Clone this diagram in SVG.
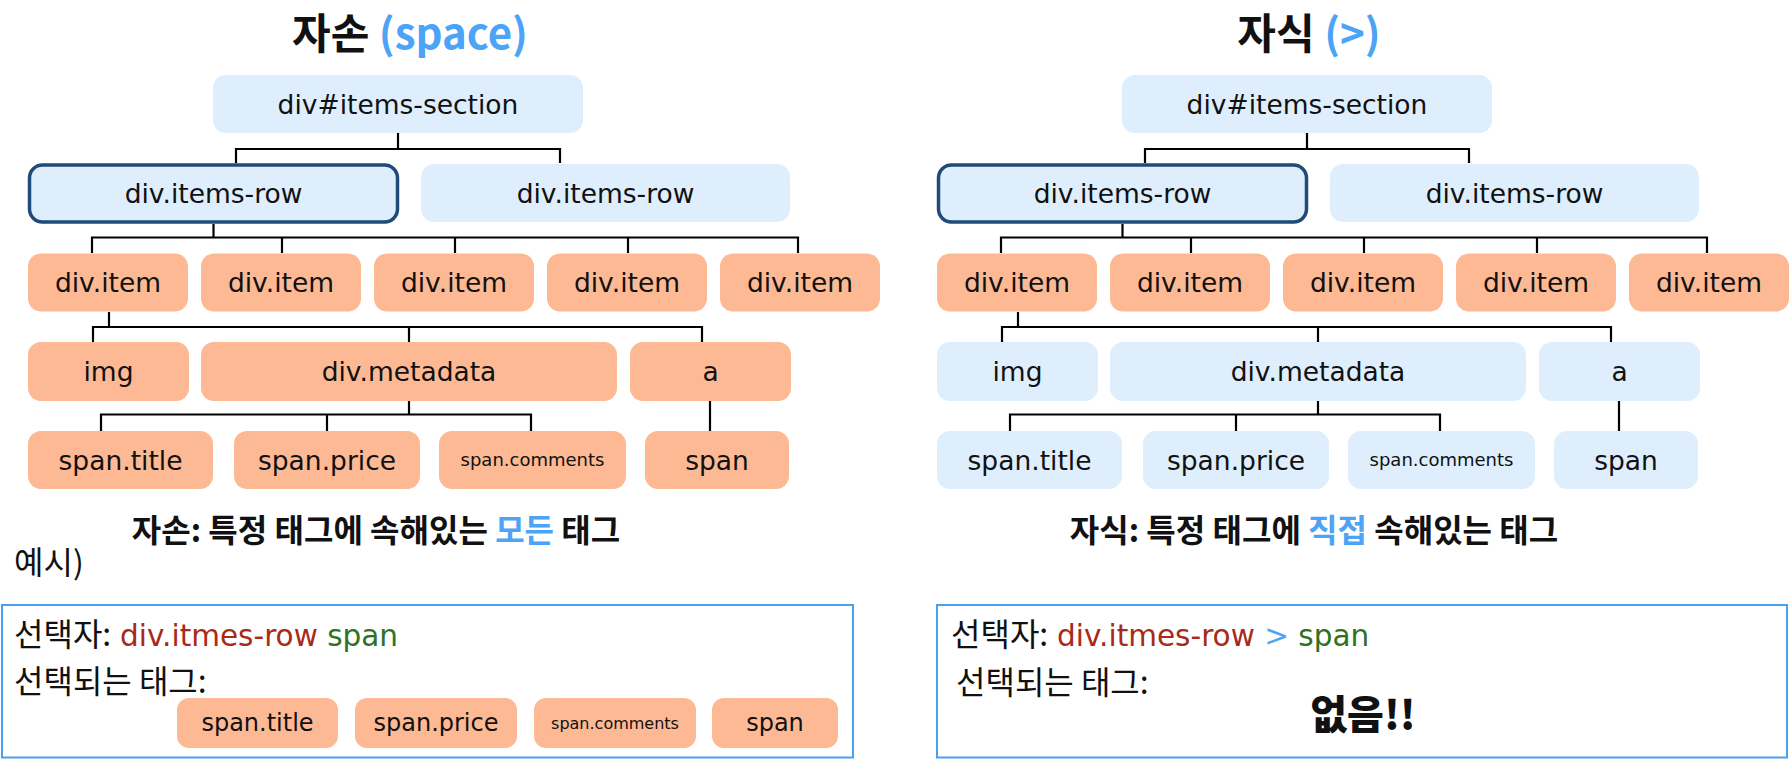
<svg xmlns="http://www.w3.org/2000/svg" width="1790" height="760" viewBox="0 0 1790 760">
<defs>
<style>
.bg{fill:#ffffff}
.lb{fill:#dfeefc}
.or{fill:#fcb994}
.hl{fill:#dfeefc;stroke:#1f4b78;stroke-width:3.5}
.lbl{font-family:"DejaVu Sans",sans-serif;font-size:26.5px;fill:#111;text-anchor:middle}
.sm{font-size:18px}
.res{font-size:24px}
.res-sm{font-size:16px}
.kr{font-family:"Noto Sans CJK KR",sans-serif;fill:#111}
.title{font-size:42px;font-weight:700;text-anchor:middle}
.cap{font-size:32px;font-weight:700;text-anchor:middle}
.txt{font-size:32px}
.lat{font-family:"DejaVu Sans",sans-serif;font-size:29.5px}
.blue{fill:#4da3f5}
.red{fill:#a82a18}
.green{fill:#2f711f}
.conn{fill:none;stroke:#000;stroke-width:2.2}
.frame{fill:none;stroke:#4a9ff0;stroke-width:2}
</style>
</defs>
<rect class="bg" x="0" y="0" width="1790" height="760"/>

<!-- ===== LEFT: descendant ===== -->
<g id="title-left"><text class="kr title" x="410" y="49">자손 <tspan class="blue">(space)</tspan></text></g>

<g id="connectors-left" class="conn">
<path d="M398,133 V149 M236,163 V149 H560 V163"/>
<path d="M213.5,224 V237.5 M92,253 V237.5 H798 V253 M282,237.5 V253 M455,237.5 V253 M628,237.5 V253"/>
<path d="M109,312 V327 M93,342 V327 H702 V342 M409,327 V342"/>
<path d="M409,401 V414.5 M101,431 V414.5 H531 V431 M327,414.5 V431"/>
<path d="M710,401 V431"/>
</g>

<g id="L-root"><rect class="lb" x="213" y="75" width="370" height="58" rx="13"/><text class="lbl" x="398" y="114">div#items-section</text></g>
<g id="L-row1"><rect class="hl" x="29.5" y="165" width="368" height="57" rx="13"/><text class="lbl" x="213.5" y="203">div.items-row</text></g>
<g id="L-row2"><rect class="lb" x="421" y="164" width="369" height="58" rx="13"/><text class="lbl" x="605.5" y="203">div.items-row</text></g>

<g id="L-item1"><rect class="or" x="28" y="253.5" width="160" height="58" rx="13"/><text class="lbl" x="108" y="292">div.item</text></g>
<g id="L-item2"><rect class="or" x="201" y="253.5" width="160" height="58" rx="13"/><text class="lbl" x="281" y="292">div.item</text></g>
<g id="L-item3"><rect class="or" x="374" y="253.5" width="160" height="58" rx="13"/><text class="lbl" x="454" y="292">div.item</text></g>
<g id="L-item4"><rect class="or" x="547" y="253.5" width="160" height="58" rx="13"/><text class="lbl" x="627" y="292">div.item</text></g>
<g id="L-item5"><rect class="or" x="720" y="253.5" width="160" height="58" rx="13"/><text class="lbl" x="800" y="292">div.item</text></g>

<g id="L-img"><rect class="or" x="28" y="342" width="161" height="59" rx="13"/><text class="lbl" x="108.5" y="381">img</text></g>
<g id="L-meta"><rect class="or" x="201" y="342" width="416" height="59" rx="13"/><text class="lbl" x="409" y="381">div.metadata</text></g>
<g id="L-a"><rect class="or" x="630" y="342" width="161" height="59" rx="13"/><text class="lbl" x="710.5" y="381">a</text></g>

<g id="L-title"><rect class="or" x="28" y="431" width="185" height="58" rx="13"/><text class="lbl" x="120.5" y="470">span.title</text></g>
<g id="L-price"><rect class="or" x="234" y="431" width="186" height="58" rx="13"/><text class="lbl" x="327" y="470">span.price</text></g>
<g id="L-comments"><rect class="or" x="439" y="431" width="187" height="58" rx="13"/><text class="lbl sm" x="532.5" y="466">span.comments</text></g>
<g id="L-span"><rect class="or" x="645" y="431" width="144" height="58" rx="13"/><text class="lbl" x="717" y="470">span</text></g>

<g id="caption-left"><text class="kr cap" x="376" y="542">자손: 특정 태그에 속해있는 <tspan class="blue">모든</tspan> 태그</text></g>
<g id="example"><text class="kr txt" x="14" y="574">예시)</text></g>

<g id="box-left">
<rect class="frame" x="2" y="605" width="851" height="152.5"/>
<text class="kr txt" x="14" y="646">선택자: <tspan class="lat red" x="120">div.itmes-row</tspan><tspan class="lat green"> span</tspan></text>
<text class="kr txt" x="14" y="693">선택되는 태그:</text>
<g id="R1-title"><rect class="or" x="177" y="698" width="161" height="50" rx="12"/><text class="lbl res" x="257.5" y="731">span.title</text></g>
<g id="R1-price"><rect class="or" x="355" y="698" width="162" height="50" rx="12"/><text class="lbl res" x="436" y="731">span.price</text></g>
<g id="R1-comments"><rect class="or" x="534" y="698" width="162" height="50" rx="12"/><text class="lbl res-sm" x="615" y="729">span.comments</text></g>
<g id="R1-span"><rect class="or" x="712" y="698" width="126" height="50" rx="12"/><text class="lbl res" x="775" y="731">span</text></g>
</g>

<!-- ===== RIGHT: child ===== -->
<g id="title-right"><text class="kr title" x="1309" y="49">자식 <tspan class="blue">(&gt;)</tspan></text></g>

<g id="connectors-right" class="conn" transform="translate(909,0)">
<path d="M398,133 V149 M236,163 V149 H560 V163"/>
<path d="M213.5,224 V237.5 M92,253 V237.5 H798 V253 M282,237.5 V253 M455,237.5 V253 M628,237.5 V253"/>
<path d="M109,312 V327 M93,342 V327 H702 V342 M409,327 V342"/>
<path d="M409,401 V414.5 M101,431 V414.5 H531 V431 M327,414.5 V431"/>
<path d="M710,401 V431"/>
</g>

<g transform="translate(909,0)">
<g id="R-root"><rect class="lb" x="213" y="75" width="370" height="58" rx="13"/><text class="lbl" x="398" y="114">div#items-section</text></g>
<g id="R-row1"><rect class="hl" x="29.5" y="165" width="368" height="57" rx="13"/><text class="lbl" x="213.5" y="203">div.items-row</text></g>
<g id="R-row2"><rect class="lb" x="421" y="164" width="369" height="58" rx="13"/><text class="lbl" x="605.5" y="203">div.items-row</text></g>

<g id="R-item1"><rect class="or" x="28" y="253.5" width="160" height="58" rx="13"/><text class="lbl" x="108" y="292">div.item</text></g>
<g id="R-item2"><rect class="or" x="201" y="253.5" width="160" height="58" rx="13"/><text class="lbl" x="281" y="292">div.item</text></g>
<g id="R-item3"><rect class="or" x="374" y="253.5" width="160" height="58" rx="13"/><text class="lbl" x="454" y="292">div.item</text></g>
<g id="R-item4"><rect class="or" x="547" y="253.5" width="160" height="58" rx="13"/><text class="lbl" x="627" y="292">div.item</text></g>
<g id="R-item5"><rect class="or" x="720" y="253.5" width="160" height="58" rx="13"/><text class="lbl" x="800" y="292">div.item</text></g>

<g id="R-img"><rect class="lb" x="28" y="342" width="161" height="59" rx="13"/><text class="lbl" x="108.5" y="381">img</text></g>
<g id="R-meta"><rect class="lb" x="201" y="342" width="416" height="59" rx="13"/><text class="lbl" x="409" y="381">div.metadata</text></g>
<g id="R-a"><rect class="lb" x="630" y="342" width="161" height="59" rx="13"/><text class="lbl" x="710.5" y="381">a</text></g>

<g id="R-title"><rect class="lb" x="28" y="431" width="185" height="58" rx="13"/><text class="lbl" x="120.5" y="470">span.title</text></g>
<g id="R-price"><rect class="lb" x="234" y="431" width="186" height="58" rx="13"/><text class="lbl" x="327" y="470">span.price</text></g>
<g id="R-comments"><rect class="lb" x="439" y="431" width="187" height="58" rx="13"/><text class="lbl sm" x="532.5" y="466">span.comments</text></g>
<g id="R-span"><rect class="lb" x="645" y="431" width="144" height="58" rx="13"/><text class="lbl" x="717" y="470">span</text></g>
</g>

<g id="caption-right"><text class="kr cap" x="1314" y="542">자식: 특정 태그에 <tspan class="blue">직접</tspan> 속해있는 태그</text></g>

<g id="box-right">
<rect class="frame" x="937" y="605" width="850" height="152.5"/>
<text class="kr txt" x="951" y="646">선택자: <tspan class="lat red" x="1057">div.itmes-row</tspan><tspan class="lat blue"> &gt;</tspan><tspan class="lat green"> span</tspan></text>
<text class="kr txt" x="956" y="694">선택되는 태그:</text>
<text class="kr" x="1363" y="729" style="font-size:40px;font-weight:900;text-anchor:middle">없음!!</text>
</g>
</svg>
